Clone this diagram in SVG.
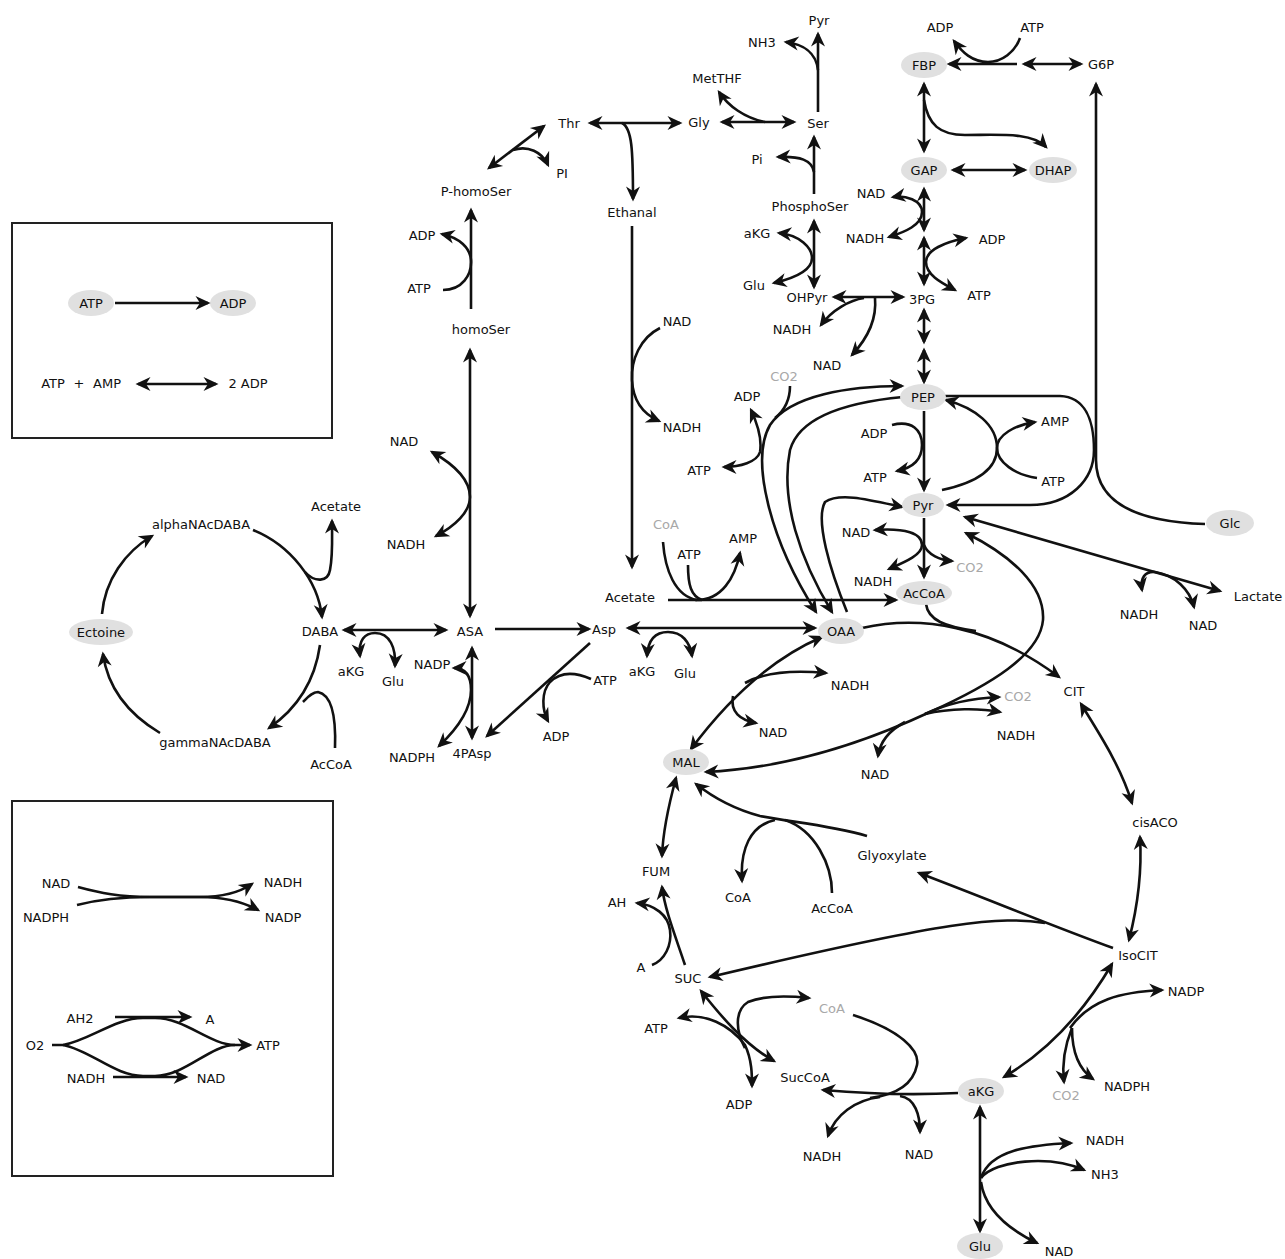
<svg xmlns="http://www.w3.org/2000/svg" width="1285" height="1259" viewBox="0 0 1285 1259">
<defs>
<marker id="a" viewBox="-14 -8 17 16" refX="0" refY="0" markerWidth="17" markerHeight="16" markerUnits="userSpaceOnUse" orient="auto-start-reverse">
<path d="M2.5,0 L-12.5,-7 L-8,0 L-12.5,7 Z" fill="#111"/>
</marker>
<style>
.c{fill:none;stroke:#111;stroke-width:2.6}
.e{marker-end:url(#a)}
.b{marker-start:url(#a);marker-end:url(#a)}
text{font-family:"DejaVu Sans","Liberation Sans",sans-serif;font-size:13px;text-anchor:middle;fill:#111}
.g text,text.g{fill:#a8a8a8}
ellipse{fill:#e0e0e0}
.box{fill:none;stroke:#222;stroke-width:2}
</style>
</defs>
<rect width="1285" height="1259" fill="#fff"/>

<g id="legend1">
<rect class="box" x="12" y="223" width="320" height="215"/>
<g id="lg_ATP"><ellipse cx="91" cy="303" rx="23" ry="13"/><text x="91" y="308">ATP</text></g>
<g id="lg_ADP"><ellipse cx="233" cy="303" rx="23" ry="13"/><text x="233" y="308">ADP</text></g>
<text x="53" y="388">ATP</text>
<text x="79" y="388">+</text>
<text x="107" y="388">AMP</text>
<text x="248" y="388">2 ADP</text>
</g>
<g id="legend2">
<rect class="box" x="12" y="801" width="321" height="375"/>
<text x="56" y="888">NAD</text>
<text x="46" y="922">NADPH</text>
<text x="283" y="887">NADH</text>
<text x="283" y="922">NADP</text>
<text x="80" y="1023">AH2</text>
<text x="210" y="1024">A</text>
<text x="35" y="1050">O2</text>
<text x="268" y="1050">ATP</text>
<text x="86" y="1083">NADH</text>
<text x="211" y="1083">NAD</text>
</g>

<g id="connectors">
<path class="c e" d="M115,303 L208,303"/>
<path class="c b" d="M138,384 L216,384"/>
<path class="c e" d="M78,887 C100,893 120,897 150,897 L200,897 C225,897 240,892 252,884"/>
<path class="c e" d="M77,905 C100,899 120,897 150,897 L200,897 C225,897 245,903 258,910"/>
<path class="c e" d="M115,1017 L190,1017"/>
<path class="c e" d="M113,1077 L186,1077"/>
<path class="c e" d="M52,1045 L63,1045 C90,1040 115,1018 143,1018 L155,1018 C185,1018 210,1045 235,1045 L250,1045"/>
<path class="c" d="M63,1045 C90,1050 115,1076 143,1076 L155,1076 C185,1076 210,1045 235,1045"/>

<path class="c e" d="M818,112 L818,34"/>
<path class="c e" d="M818,70 C816,52 802,44 786,42"/>
<path class="c b" d="M722,122 L794,122"/>
<path class="c e" d="M765,122 C745,118 728,106 719,92"/>
<path class="c e" d="M814,194 L814,137"/>
<path class="c e" d="M814,172 C812,160 800,156 778,157"/>
<path class="c b" d="M590,123 L680,123"/>
<path class="c e" d="M622,123 C632,128 633,150 633,199"/>
<path class="c b" d="M489,168 L544,126"/>
<path class="c e" d="M513,150 C528,145 542,152 548,165"/>
<path class="c e" d="M471,309 L471,210"/>
<path class="c e" d="M443,290 C462,290 472,275 471,260 C470,248 460,238 442,234"/>
<path class="c e" d="M632,226 L632,567"/>
<path class="c e" d="M660,328 C640,338 631,360 632,380 C633,400 643,414 659,421"/>
<path class="c b" d="M470,350 L470,616"/>
<path class="c b" d="M432,452 C455,465 470,480 470,497 C470,512 455,526 436,536"/>

<path class="c b" d="M924,84 L924,151"/>
<path class="c e" d="M924,100 C928,125 940,135 965,135 C1000,135 1032,132 1046,147"/>
<path class="c b" d="M953,170 L1025,170"/>
<path class="c e" d="M1017,64 L949,64"/>
<path class="c b" d="M1024,64 L1081,64"/>
<path class="c e" d="M1020,38 C1015,52 1002,62 988,62 C972,62 962,52 954,41"/>
<path class="c b" d="M924,189 L924,230"/>
<path class="c b" d="M924,238 L924,284"/>
<path class="c b" d="M893,197 C905,195 922,200 922,212 C922,225 905,232 889,237"/>
<path class="c b" d="M966,238 C945,242 926,250 926,262 C926,275 942,283 955,290"/>
<path class="c b" d="M834,297 L903,297"/>
<path class="c e" d="M864,298 C850,300 832,310 821,325"/>
<path class="c e" d="M875,298 C877,320 866,340 852,355"/>
<path class="c b" d="M814,221 L814,287"/>
<path class="c b" d="M779,233 C800,235 812,248 812,258 C812,270 795,278 774,283"/>
<path class="c b" d="M924,310 L924,342"/>
<path class="c b" d="M924,350 L924,382"/>
<path class="c e" d="M924,411 L924,490"/>
<path class="c e" d="M892,425 C912,420 922,430 922,445 C922,460 912,468 897,471"/>
<path class="c e" d="M942,490 C975,483 997,470 997,448 C997,425 975,408 946,400"/>
<path class="c e" d="M1037,478 C1015,475 997,462 997,448 C997,435 1015,425 1035,422"/>
<path class="c e" d="M944,396 L1060,396 C1085,397 1094,420 1094,450 C1094,480 1070,505 1030,505 L948,505"/>
<path class="c e" d="M1205,524 C1140,522 1096,505 1096,460 L1096,84"/>
<path class="c e" d="M924,518 L924,577"/>
<path class="c b" d="M875,530 C905,528 922,533 922,545 C922,555 905,562 889,569"/>
<path class="c e" d="M924,545 C928,555 940,560 952,561"/>
<path class="c b" d="M965,517 L1220,591"/>
<path class="c b" d="M1142,590 C1140,578 1145,571 1155,572 C1175,575 1190,590 1194,607"/>

<path class="c e" d="M668,600 L896,600"/>
<path class="c" d="M663,542 C665,570 675,596 697,600"/>
<path class="c" d="M688,565 C688,585 691,596 702,600"/>
<path class="c e" d="M695,600 C722,601 735,577 740,553"/>

<path class="c b" d="M628,628 L815,628"/>
<path class="c b" d="M647,656 C648,640 655,632 668,632 C682,632 690,642 692,656"/>
<path class="c e" d="M495,629 L589,629"/>
<path class="c b" d="M344,630 L446,630"/>
<path class="c b" d="M360,656 C358,640 365,633 375,633 C390,633 396,648 395,666"/>
<path class="c b" d="M472,648 L472,738"/>
<path class="c b" d="M454,668 C465,668 471,675 471,690 C471,710 456,730 439,746"/>
<path class="c e" d="M590,643 L487,736"/>
<path class="c e" d="M591,679 C575,672 560,672 550,682 C541,692 542,710 548,721"/>

<path class="c e" d="M102,614 C105,580 125,552 152,536"/>
<path class="c e" d="M253,530 C290,545 318,580 322,617"/>
<path class="c e" d="M305,572 C315,583 328,582 330,570 C333,555 332,540 332,521"/>
<path class="c e" d="M320,645 C315,680 298,708 269,728"/>
<path class="c" d="M335,748 C336,720 333,695 318,692 C312,692 308,697 303,702"/>
<path class="c e" d="M160,733 C130,715 108,690 103,654"/>

<path class="c b" d="M902,386 C850,386 790,395 770,425 C750,460 770,540 816,612"/>
<path class="c e" d="M903,397 C850,402 800,415 790,450 C780,500 800,560 832,612"/>
<path class="c e" d="M847,612 C830,570 815,520 825,502 C840,492 870,500 902,507"/>
<path class="c b" d="M751,410 C758,425 762,440 760,452 C757,462 740,467 724,467"/>
<path class="c" d="M790,386 C790,400 785,410 775,418"/>

<path class="c b" d="M822,637 C780,655 735,690 691,749"/>
<path class="c e" d="M745,683 C765,672 795,670 826,673"/>
<path class="c e" d="M733,696 C730,712 740,720 756,723"/>
<path class="c e" d="M862,628 C920,615 990,625 1059,677"/>
<path class="c" d="M926,604 C928,620 945,627 976,631"/>
<path class="c b" d="M966,533 C1010,555 1045,585 1043,620 C1040,655 990,685 930,712 C870,740 790,768 706,772"/>
<path class="c e" d="M925,714 C950,702 975,698 999,697"/>
<path class="c e" d="M925,714 C950,708 980,708 1000,712"/>
<path class="c e" d="M905,722 C890,730 880,742 878,756"/>
<path class="c e" d="M867,836 C830,825 790,822 760,816 C730,808 710,795 696,784"/>
<path class="c" d="M832,893 C832,865 815,830 785,820"/>
<path class="c e" d="M775,820 C750,825 740,850 742,881"/>
<path class="c b" d="M676,778 C670,800 663,830 662,856"/>
<path class="c e" d="M685,965 C675,935 665,910 662,887"/>
<path class="c e" d="M652,965 C665,960 672,945 670,930 C668,915 655,905 637,903"/>
<path class="c e" d="M1113,948 C1050,925 990,900 919,873"/>
<path class="c e" d="M1045,923 C1000,916 950,920 710,977"/>
<path class="c b" d="M1081,704 C1100,735 1120,765 1132,803"/>
<path class="c b" d="M1140,837 C1142,870 1138,905 1129,940"/>
<path class="c b" d="M1112,964 C1085,1010 1050,1050 1004,1077"/>
<path class="c e" d="M1070,1028 C1090,1000 1120,992 1162,990"/>
<path class="c e" d="M1072,1028 C1065,1045 1062,1065 1064,1082"/>
<path class="c e" d="M1072,1028 C1072,1055 1080,1070 1093,1079"/>
<path class="c e" d="M958,1093 C920,1095 880,1095 823,1090"/>
<path class="c" d="M853,1015 C900,1030 920,1050 917,1065 C913,1085 895,1095 870,1098"/>
<path class="c e" d="M880,1097 C855,1100 835,1115 828,1136"/>
<path class="c e" d="M900,1096 C915,1098 920,1115 920,1132"/>
<path class="c b" d="M701,991 C720,1015 745,1045 774,1061"/>
<path class="c b" d="M679,1018 C705,1012 730,1025 745,1045 C752,1060 752,1075 752,1086"/>
<path class="c e" d="M745,1048 C735,1030 735,1010 748,1002 C765,995 790,996 809,998"/>
<path class="c b" d="M980,1107 L980,1231"/>
<path class="c e" d="M981,1178 C990,1150 1030,1145 1071,1143"/>
<path class="c e" d="M981,1178 C995,1160 1050,1155 1084,1170"/>
<path class="c e" d="M981,1182 C985,1210 1010,1230 1037,1243"/>
</g>

<g id="n_Pyr_top"><text x="819" y="25">Pyr</text></g>
<g id="n_NH3_top"><text x="762" y="47">NH3</text></g>
<g id="n_MetTHF"><text x="717" y="83">MetTHF</text></g>
<g id="n_Gly"><text x="699" y="127">Gly</text></g>
<g id="n_Ser"><text x="818" y="128">Ser</text></g>
<g id="n_Pi_ser"><text x="757" y="164">Pi</text></g>
<g id="n_PhosphoSer"><text x="810" y="211">PhosphoSer</text></g>
<g id="n_aKG_ps"><text x="757" y="238">aKG</text></g>
<g id="n_Glu_ps"><text x="754" y="290">Glu</text></g>
<g id="n_OHPyr"><text x="807" y="302">OHPyr</text></g>
<g id="n_3PG"><text x="922" y="304">3PG</text></g>
<g id="n_NAD_gap"><text x="871" y="198">NAD</text></g>
<g id="n_NADH_gap"><text x="865" y="243">NADH</text></g>
<g id="n_ADP_pgk"><text x="992" y="244">ADP</text></g>
<g id="n_ATP_pgk"><text x="979" y="300">ATP</text></g>
<g id="n_FBP"><ellipse cx="924" cy="65" rx="23" ry="13"/><text x="924" y="70">FBP</text></g>
<g id="n_ADP_pfk"><text x="940" y="32">ADP</text></g>
<g id="n_ATP_pfk"><text x="1032" y="32">ATP</text></g>
<g id="n_G6P"><text x="1101" y="69">G6P</text></g>
<g id="n_GAP"><ellipse cx="924" cy="170" rx="23" ry="13"/><text x="924" y="175">GAP</text></g>
<g id="n_DHAP"><ellipse cx="1053" cy="170" rx="24" ry="13"/><text x="1053" y="175">DHAP</text></g>
<g id="n_Thr"><text x="569" y="128">Thr</text></g>
<g id="n_PI_thr"><text x="562" y="178">PI</text></g>
<g id="n_PhomoSer"><text x="476" y="196">P-homoSer</text></g>
<g id="n_Ethanal"><text x="632" y="217">Ethanal</text></g>
<g id="n_ADP_hs"><text x="422" y="240">ADP</text></g>
<g id="n_ATP_hs"><text x="419" y="293">ATP</text></g>
<g id="n_homoSer"><text x="481" y="334">homoSer</text></g>
<g id="n_NAD_eth"><text x="677" y="326">NAD</text></g>
<g id="n_NADH_eth"><text x="682" y="432">NADH</text></g>
<g id="n_NADH_ohp"><text x="792" y="334">NADH</text></g>
<g id="n_NAD_ohp"><text x="827" y="370">NAD</text></g>
<g id="n_CO2_pepc" class="g"><text x="784" y="381">CO2</text></g>
<g id="n_ADP_pepck"><text x="747" y="401">ADP</text></g>
<g id="n_ATP_pepck"><text x="699" y="475">ATP</text></g>
<g id="n_PEP"><ellipse cx="923" cy="397" rx="23" ry="13"/><text x="923" y="402">PEP</text></g>
<g id="n_ADP_pk"><text x="874" y="438">ADP</text></g>
<g id="n_ATP_pk"><text x="875" y="482">ATP</text></g>
<g id="n_AMP_ppdk"><text x="1055" y="426">AMP</text></g>
<g id="n_ATP_ppdk"><text x="1053" y="486">ATP</text></g>
<g id="n_Pyr"><ellipse cx="923" cy="505" rx="21" ry="12"/><text x="923" y="510">Pyr</text></g>
<g id="n_Glc"><ellipse cx="1230" cy="523" rx="24" ry="13"/><text x="1230" y="528">Glc</text></g>
<g id="n_NAD_pdh"><text x="856" y="537">NAD</text></g>
<g id="n_NADH_pdh"><text x="873" y="586">NADH</text></g>
<g id="n_CO2_pdh" class="g"><text x="970" y="572">CO2</text></g>
<g id="n_AcCoA"><ellipse cx="924" cy="593" rx="28" ry="12"/><text x="924" y="598">AcCoA</text></g>
<g id="n_CoA_acs" class="g"><text x="666" y="529">CoA</text></g>
<g id="n_ATP_acs"><text x="689" y="559">ATP</text></g>
<g id="n_AMP_acs"><text x="743" y="543">AMP</text></g>
<g id="n_Acetate"><text x="630" y="602">Acetate</text></g>
<g id="n_Lactate"><text x="1258" y="601">Lactate</text></g>
<g id="n_NADH_ldh"><text x="1139" y="619">NADH</text></g>
<g id="n_NAD_ldh"><text x="1203" y="630">NAD</text></g>

<g id="n_NAD_asd"><text x="404" y="446">NAD</text></g>
<g id="n_NADH_asd"><text x="406" y="549">NADH</text></g>
<g id="n_Acetate_ect"><text x="336" y="511">Acetate</text></g>
<g id="n_alphaNAcDABA"><text x="201" y="529">alphaNAcDABA</text></g>
<g id="n_Ectoine"><ellipse cx="101" cy="632" rx="32" ry="13"/><text x="101" y="637">Ectoine</text></g>
<g id="n_DABA"><text x="320" y="636">DABA</text></g>
<g id="n_ASA"><text x="470" y="636">ASA</text></g>
<g id="n_Asp"><text x="604" y="634">Asp</text></g>
<g id="n_OAA"><ellipse cx="841" cy="631" rx="23" ry="13"/><text x="841" y="636">OAA</text></g>
<g id="n_aKG_daba"><text x="351" y="676">aKG</text></g>
<g id="n_Glu_daba"><text x="393" y="686">Glu</text></g>
<g id="n_NADP_asd"><text x="432" y="669">NADP</text></g>
<g id="n_gammaNAcDABA"><text x="215" y="747">gammaNAcDABA</text></g>
<g id="n_AcCoA_ect"><text x="331" y="769">AcCoA</text></g>
<g id="n_NADPH_asd"><text x="412" y="762">NADPH</text></g>
<g id="n_4PAsp"><text x="472" y="758">4PAsp</text></g>
<g id="n_ATP_ak"><text x="605" y="685">ATP</text></g>
<g id="n_ADP_ak"><text x="556" y="741">ADP</text></g>
<g id="n_aKG_asp"><text x="642" y="676">aKG</text></g>
<g id="n_Glu_asp"><text x="685" y="678">Glu</text></g>

<g id="n_NADH_mdh"><text x="850" y="690">NADH</text></g>
<g id="n_NAD_mdh"><text x="773" y="737">NAD</text></g>
<g id="n_CO2_me" class="g"><text x="1018" y="701">CO2</text></g>
<g id="n_NADH_me"><text x="1016" y="740">NADH</text></g>
<g id="n_NAD_me"><text x="875" y="779">NAD</text></g>
<g id="n_CIT"><text x="1074" y="696">CIT</text></g>
<g id="n_MAL"><ellipse cx="686" cy="762" rx="23" ry="13"/><text x="686" y="767">MAL</text></g>
<g id="n_cisACO"><text x="1155" y="827">cisACO</text></g>
<g id="n_Glyoxylate"><text x="892" y="860">Glyoxylate</text></g>
<g id="n_FUM"><text x="656" y="876">FUM</text></g>
<g id="n_CoA_ms"><text x="738" y="902">CoA</text></g>
<g id="n_AcCoA_ms"><text x="832" y="913">AcCoA</text></g>
<g id="n_AH"><text x="617" y="907">AH</text></g>
<g id="n_A"><text x="641" y="972">A</text></g>
<g id="n_SUC"><text x="688" y="983">SUC</text></g>
<g id="n_IsoCIT"><text x="1138" y="960">IsoCIT</text></g>
<g id="n_NADP_idh"><text x="1186" y="996">NADP</text></g>
<g id="n_CoA_scs" class="g"><text x="832" y="1013">CoA</text></g>
<g id="n_ATP_scs"><text x="656" y="1033">ATP</text></g>
<g id="n_SucCoA"><text x="805" y="1082">SucCoA</text></g>
<g id="n_ADP_scs"><text x="739" y="1109">ADP</text></g>
<g id="n_aKG"><ellipse cx="981" cy="1091" rx="23" ry="13"/><text x="981" y="1096">aKG</text></g>
<g id="n_CO2_idh" class="g"><text x="1066" y="1100">CO2</text></g>
<g id="n_NADPH_idh"><text x="1127" y="1091">NADPH</text></g>
<g id="n_NADH_akgdh"><text x="822" y="1161">NADH</text></g>
<g id="n_NAD_akgdh"><text x="919" y="1159">NAD</text></g>
<g id="n_NADH_gdh"><text x="1105" y="1145">NADH</text></g>
<g id="n_NH3_gdh"><text x="1105" y="1179">NH3</text></g>
<g id="n_Glu"><ellipse cx="980" cy="1246" rx="23" ry="13"/><text x="980" y="1251">Glu</text></g>
<g id="n_NAD_gdh"><text x="1059" y="1256">NAD</text></g>
</svg>
